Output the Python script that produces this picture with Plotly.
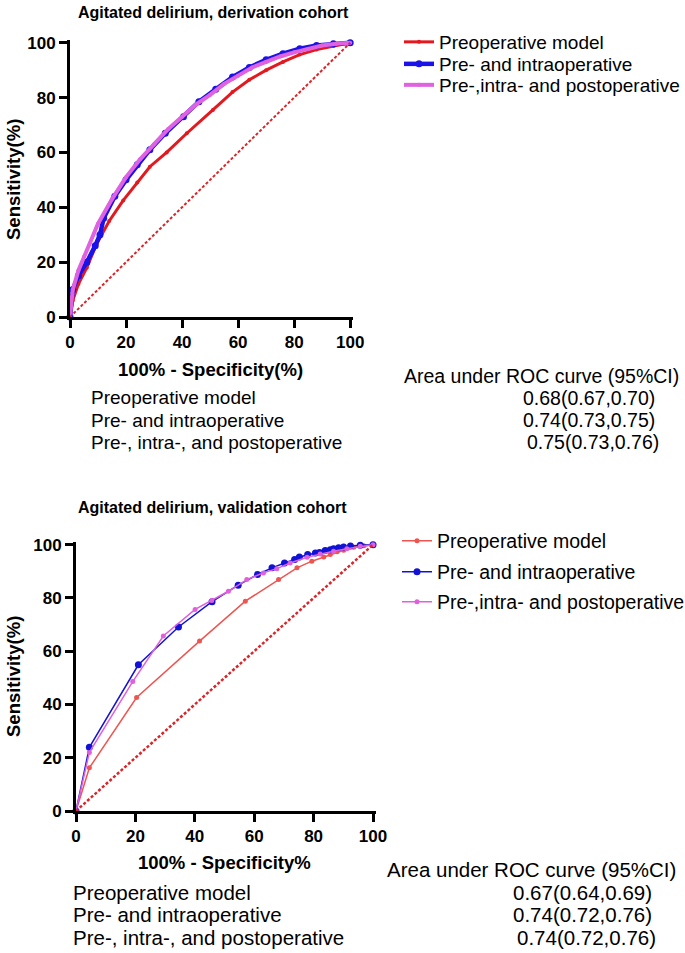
import plotly.graph_objects as go

W, H = 685, 953

# ---- derivation cohort (top)
der_pre_x = [0, 1, 3, 6, 9.5, 14, 19, 24, 28.5, 34.5, 41.7, 51, 58, 64, 70, 76, 82, 88, 94, 100]
der_pre_y = [0, 6, 12, 18, 26.6, 35, 42.5, 49, 54.8, 60, 67, 75.5, 82, 86.5, 90, 93, 95.7, 97.5, 98.8, 100]
der_int_x = [0, 1, 3, 6, 9, 10.7, 12, 16, 20, 24, 28.5, 34, 40.5, 46, 52, 58, 64, 70, 76, 82, 88, 94, 100]
der_int_y = [0, 10, 15, 20, 26, 30, 36, 44, 50, 55.5, 61, 67, 73, 78.5, 83, 87.5, 91, 93.8, 96, 97.8, 99, 99.6, 100]
der_post_x = [0, 1, 3, 5, 10, 15, 20, 25, 30, 35, 40, 45, 50, 55, 60, 65, 70, 75, 80, 85, 90, 95, 100]
der_post_y = [0, 10, 17, 22, 34, 43, 51, 57.5, 63, 68.5, 73, 77.5, 81, 85, 88, 91, 93, 95, 96.5, 97.8, 99, 99.6, 100]

# ---- validation cohort (bottom)
val_pre_x = [0, 4.5, 20.4, 41.6, 57, 68.2, 74.4, 79.4, 83.4, 85.6, 87.9, 90.1, 93.5, 96.9, 100]
val_pre_y = [0, 16.2, 42.6, 63.8, 78.8, 86.9, 91.3, 93.8, 95.4, 96.3, 97.3, 97.9, 99, 99.6, 100]
val_int_x = [0, 4.5, 21, 34.5, 45.8, 54.6, 61.1, 66, 70.2, 73.6, 75.2, 78, 80.6, 82, 83.9, 85.6,
             86.7, 88.4, 90.1, 92.4, 95.7, 100]
val_int_y = [0, 23.9, 54.9, 69.1, 78.6, 84.8, 88.8, 91.3, 93.1, 94.4, 95.4, 96.3, 96.9, 97.1, 97.8, 98.1,
             98.5, 98.8, 99.1, 99.5, 99.8, 100]
val_post_x = [0, 4.5, 19.1, 29.4, 40.1, 45.7, 51.3, 57.5, 63.1, 67.6, 72.1, 77.8, 82.2, 86.7, 91.2, 95.7, 100]
val_post_y = [0, 22, 48.6, 65.7, 75.7, 79, 82.5, 86.9, 89.4, 91, 93.1, 95.3, 96.5, 97.5, 98.5, 99.4, 100]

ref_line = [0, 100]
ticks = [0, 20, 40, 60, 80, 100]

names = ["Preoperative model", "Pre- and intraoperative", "Pre-,intra- and postoperative"]
table_rows = ["Preoperative model", "Pre- and intraoperative", "Pre-, intra-, and postoperative"]
der_auc = ["0.68(0.67,0.70)", "0.74(0.73,0.75)", "0.75(0.73,0.76)"]
val_auc = ["0.67(0.64,0.69)", "0.74(0.72,0.76)", "0.74(0.72,0.76)"]

FONT = "Liberation Sans, Arial, sans-serif"


# page pixel -> paper fraction
def px(x):
    return x / W


def py(y):
    return 1 - y / H


fig = go.Figure()

# top panel: (colour, line width, marker size, legend id, legend centre y)
top_style = [
    ("#e3191f", 3, 4, "legend", 42),
    ("#1a12e6", 4.5, 7, "legend2", 64),
    ("#e062e0", 4, 4, "legend3", 85),
]
for (xs, ys), name, (col, lw, ms, lg, _) in zip(
    [(der_pre_x, der_pre_y), (der_int_x, der_int_y), (der_post_x, der_post_y)], names, top_style
):
    fig.add_trace(go.Scatter(
        x=xs, y=ys, mode="lines+markers", name=name, legend=lg,
        line=dict(color=col, width=lw), marker=dict(color=col, size=ms),
        cliponaxis=False, xaxis="x", yaxis="y",
    ))
fig.add_trace(go.Scatter(
    x=ref_line, y=ref_line, mode="lines", showlegend=False,
    line=dict(color="#d9262a", width=2, dash="3px,2px"), xaxis="x", yaxis="y",
))

bot_style = [
    ("#ee5550", 1.5, 5, "legend4", 541),
    ("#1212d6", 1.5, 7, "legend5", 572),
    ("#e060dc", 1.5, 5, "legend6", 602),
]
for (xs, ys), name, (col, lw, ms, lg, _) in zip(
    [(val_pre_x, val_pre_y), (val_int_x, val_int_y), (val_post_x, val_post_y)], names, bot_style
):
    fig.add_trace(go.Scatter(
        x=xs, y=ys, mode="lines+markers", name=name, legend=lg,
        line=dict(color=col, width=lw), marker=dict(color=col, size=ms),
        cliponaxis=False, xaxis="x2", yaxis="y2",
    ))
fig.add_trace(go.Scatter(
    x=ref_line, y=ref_line, mode="lines", showlegend=False,
    line=dict(color="#d9262a", width=2.5, dash="3px,2px"), xaxis="x2", yaxis="y2",
))

axis_common = dict(
    range=[0, 101], tickvals=ticks, showline=True, linecolor="black", linewidth=3,
    ticks="outside", ticklen=8, tickwidth=3, tickcolor="black", showgrid=False, zeroline=False,
    tickfont=dict(family=FONT, size=17, color="black", weight="bold"), fixedrange=True,
    automargin=False,
)

annotations = []


def text(x, y, s, size=16, bold=False, anchor="left", angle=0):
    annotations.append(dict(
        x=px(x), y=py(y), xref="paper", yref="paper", text=s, showarrow=False,
        xanchor=anchor, yanchor="middle", textangle=angle, borderpad=0,
        font=dict(family=FONT, size=size, color="black", weight="bold" if bold else "normal"),
    ))


text(77, 13, "Agitated delirium, derivation cohort", 16, True)
text(77, 508, "Agitated delirium, validation cohort", 16, True)
text(13, 180, "Sensitivity(%)", 18.5, True, "center", -90)
text(13, 677, "Sensitivity(%)", 18.5, True, "center", -90)
text(210, 370, "100% - Specificity(%)", 18.5, True, "center")
text(224, 862, "100% - Specificity%", 18.5, True, "center")

text(403, 376, "Area under ROC curve (95%CI)", 19.5)
for i, (lab, val) in enumerate(zip(table_rows, der_auc)):
    text(90, 398 + 22 * i, lab, 19)
    text(522 + (4 if i == 2 else 0), 398 + 22 * i, val, 19.5)

text(386, 869, "Area under ROC curve (95%CI)", 20.5)
for i, (lab, val) in enumerate(zip(table_rows, val_auc)):
    text(72, 892 + 22.5 * i, lab, 20.5)
    text(512 + (4 if i == 2 else 0), 892 + 22.5 * i, val, 20.5)

legends = {}
for _, _, _, lg, yc in top_style:
    legends[lg] = dict(
        x=px(399), y=py(yc), xanchor="left", yanchor="middle", bgcolor="rgba(0,0,0,0)",
        font=dict(family=FONT, size=19, color="black"), itemwidth=30,
    )
for _, _, _, lg, yc in bot_style:
    legends[lg] = dict(
        x=px(397), y=py(yc), xanchor="left", yanchor="middle", bgcolor="rgba(0,0,0,0)",
        font=dict(family=FONT, size=19.5, color="black"), itemwidth=30,
    )

fig.update_layout(
    width=W, height=H, margin=dict(l=0, r=0, t=0, b=0, autoexpand=False),
    plot_bgcolor="white", paper_bgcolor="white",
    xaxis=dict(domain=[px(70), px(353)], anchor="y", **axis_common),
    yaxis=dict(domain=[py(317), py(40)], anchor="x", **axis_common),
    xaxis2=dict(domain=[px(76), px(376)], anchor="y2", **axis_common),
    yaxis2=dict(domain=[py(811), py(542)], anchor="x2", **axis_common),
    annotations=annotations,
    showlegend=True,
    **legends,
)

fig.write_html(
    "out.html",
    config={"displayModeBar": False},
    post_script="document.body.style.margin='0px';",
)
